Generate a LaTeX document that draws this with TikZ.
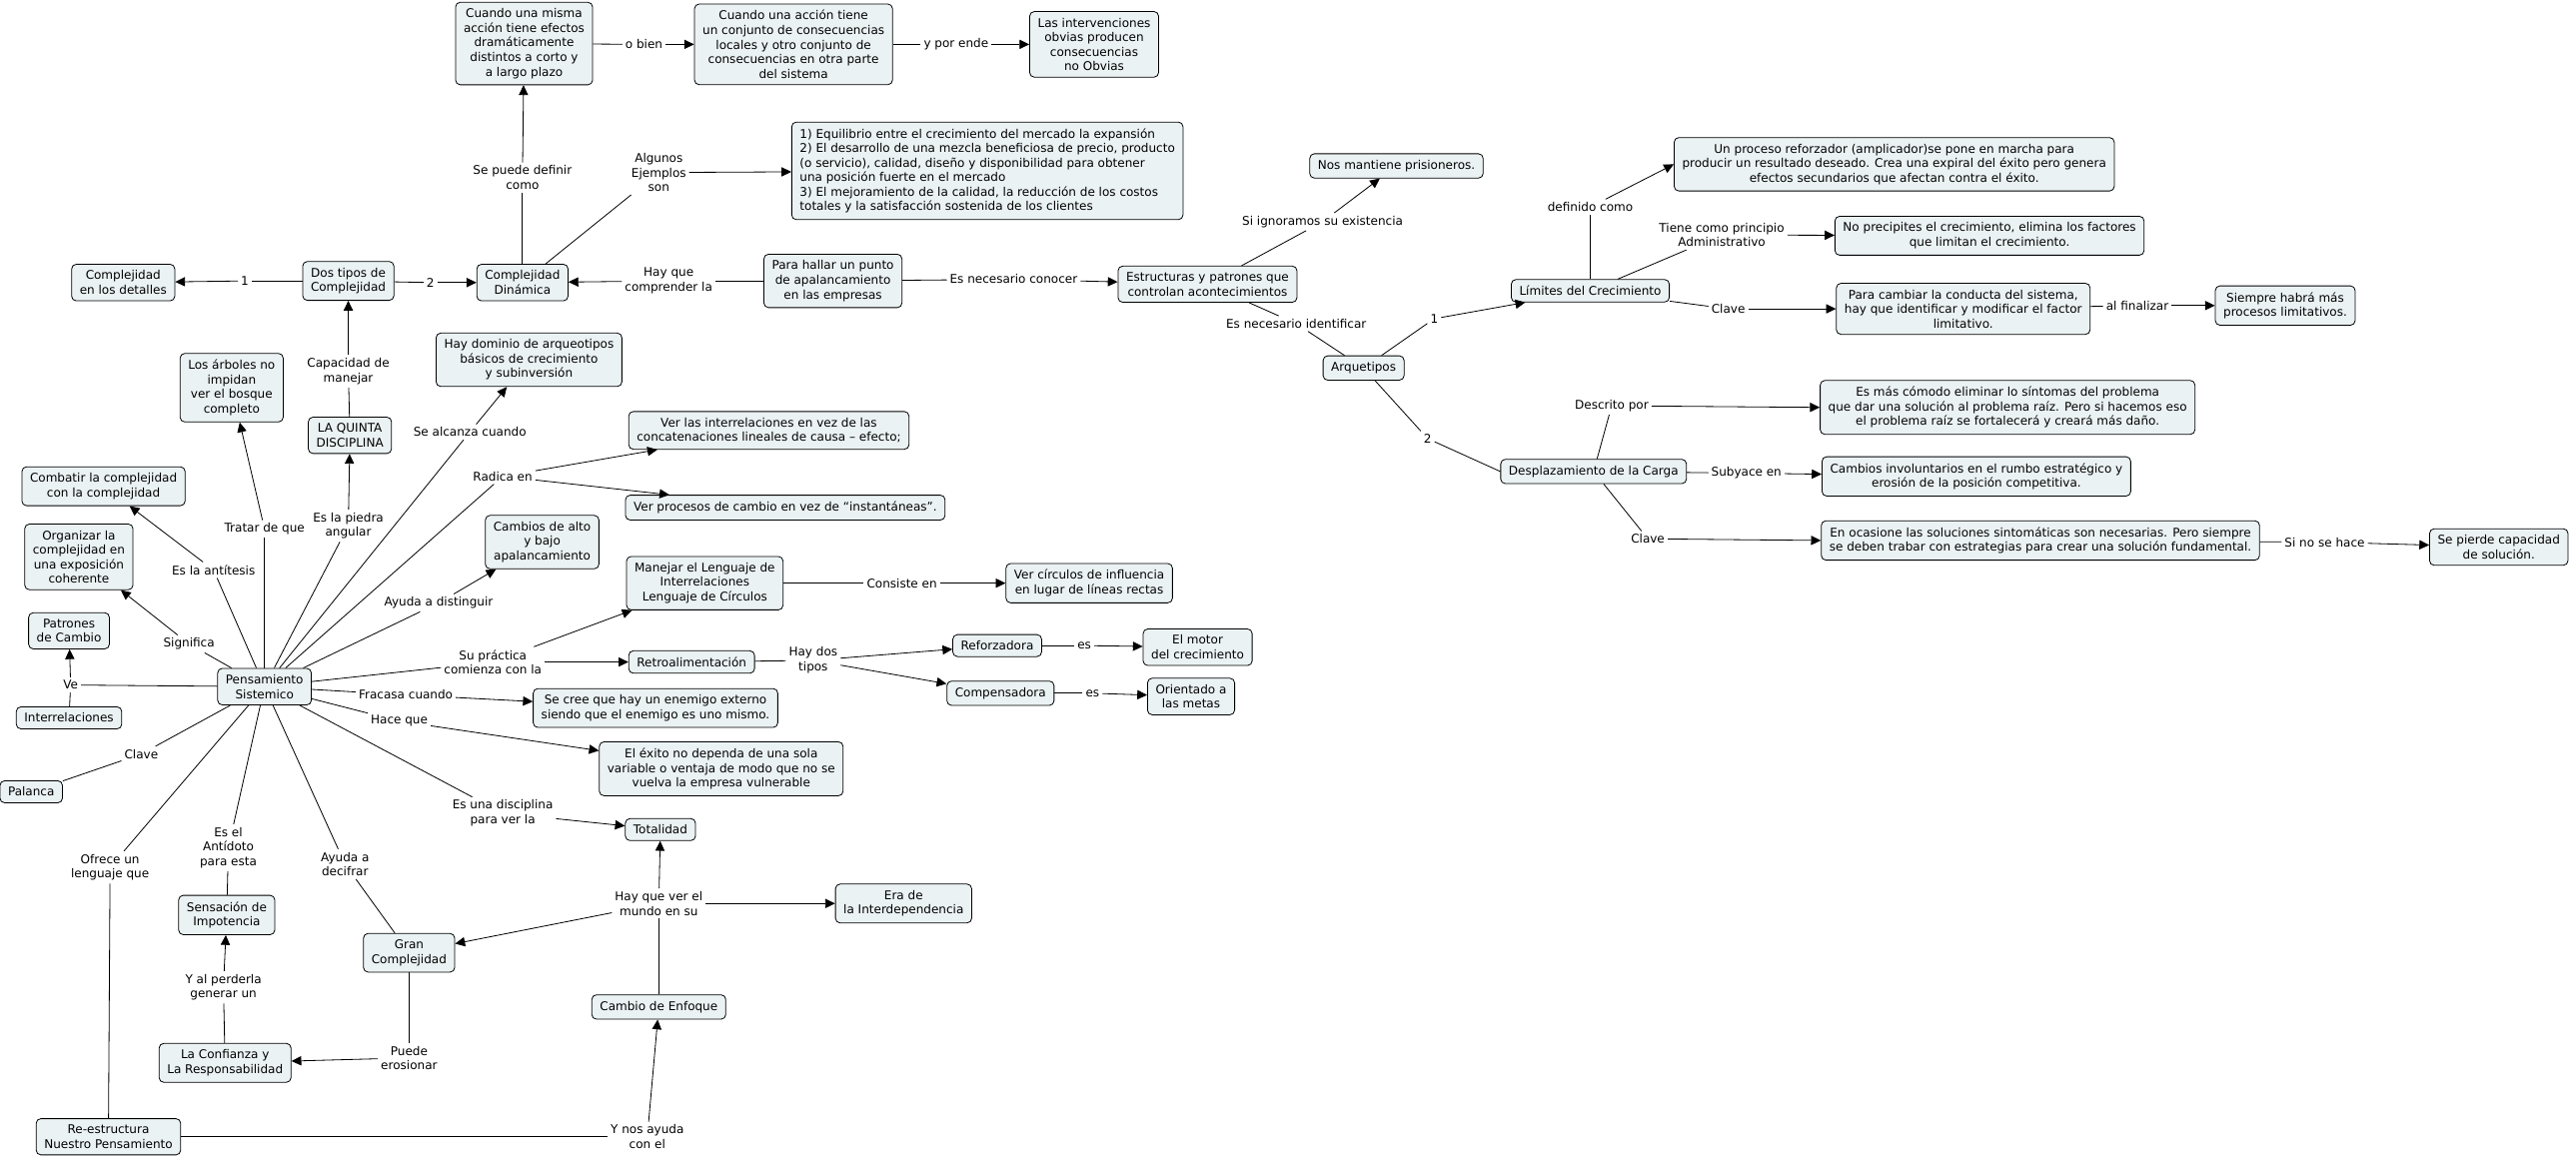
\documentclass[tikz,border=0pt]{standalone}
\usepackage{fontspec}
\setmainfont{DejaVu Sans}
\usepackage{xcolor}
\usepackage{tikz}
\usetikzlibrary{arrows.meta}
\definecolor{cmapfill}{RGB}{235,242,244}

\begin{document}
\begin{tikzpicture}[x=0.05cm, y=-0.05cm,
  every node/.style={font=\fontsize{10.4}{12.6}\selectfont, align=center},
  concept/.style={draw, rounded corners=4pt, fill=cmapfill, line width=0.7pt, inner xsep=7pt, inner ysep=5.5pt},
  link/.style={inner sep=2.5pt},
  con/.style={line width=0.7pt},
  arr/.style={con, -{Triangle[length=8.5pt,width=8pt]}}]

  \useasboundingbox (0,0) rectangle (1568,706);

  % conceptos de arriba
  \node[concept] (cmisma) at (319,26.5) {Cuando una misma\\acción tiene efectos\\dramáticamente\\distintos a corto y\\a largo plazo};
  \node[concept] (caccion) at (483,27) {Cuando una acción tiene\\un conjunto de consecuencias\\locales y otro conjunto de\\consecuencias en otra parte\\del sistema};
  \node[concept] (interv) at (666,27) {Las intervenciones\\obvias producen\\consecuencias\\no Obvias};
  \node[concept, align=left] (ejem) at (601,104) {1) Equilibrio entre el crecimiento del mercado la expansión\\2) El desarrollo de una mezcla beneficiosa de precio, producto\\(o servicio), calidad, diseño y disponibilidad para obtener\\una posición fuerte en el mercado\\3) El mejoramiento de la calidad, la reducción de los costos\\totales y la satisfacción sostenida de los clientes};
  \node[concept] (cdet) at (75,172) {Complejidad\\en los detalles};
  \node[concept] (dostipos) at (212,171) {Dos tipos de\\Complejidad};
  \node[concept] (cdin) at (318,172) {Complejidad\\Dinámica};
  \node[concept] (hallar) at (507,171) {Para hallar un punto\\de apalancamiento\\en las empresas};
  \node[concept] (estruct) at (735,173) {Estructuras y patrones que\\controlan acontecimientos};
  \node[concept] (prision) at (850,101) {Nos mantiene prisioneros.};

  % arquetipos
  \node[concept] (arquet) at (830,224) {Arquetipos};
  \node[concept] (limites) at (968,177) {Límites del Crecimiento};
  \node[concept] (reforz) at (1153,100) {Un proceso reforzador (amplicador)se pone en marcha para\\producir un resultado deseado. Crea una expiral del éxito pero genera\\efectos secundarios que afectan contra el éxito.};
  \node[concept] (noprec) at (1211,143.5) {No precipites el crecimiento, elimina los factores\\que limitan el crecimiento.};
  \node[concept] (paracamb) at (1195,188) {Para cambiar la conducta del sistema,\\hay que identificar y modificar el factor\\limitativo.};
  \node[concept] (siempre) at (1391,186) {Siempre habrá más\\procesos limitativos.};
  \node[concept] (despl) at (970,287) {Desplazamiento de la Carga};
  \node[concept] (comodo) at (1222,248) {Es más cómodo eliminar lo síntomas del problema\\que dar una solución al problema raíz. Pero si hacemos eso\\el problema raíz se fortalecerá y creará más daño.};
  \node[concept] (involunt) at (1203,290) {Cambios involuntarios en el rumbo estratégico y\\erosión de la posición competitiva.};
  \node[concept] (ocasion) at (1242,329) {En ocasione las soluciones sintomáticas son necesarias. Pero siempre\\se deben trabar con estrategias para crear una solución fundamental.};
  \node[concept] (pierde) at (1521,333) {Se pierde capacidad\\de solución.};

  % pensamiento sistemico
  \node[concept] (pens) at (161,418) {Pensamiento\\Sistemico};
  \node[concept] (dominio) at (322,219) {Hay dominio de arqueotipos\\básicos de crecimiento\\y subinversión};
  \node[concept] (arboles) at (141,236) {Los árboles no\\impidan\\ver el bosque\\completo};
  \node[concept] (quinta) at (213,265) {LA QUINTA\\DISCIPLINA};
  \node[concept] (combatir) at (63,296) {Combatir la complejidad\\con la complejidad};
  \node[concept] (organizar) at (48,339) {Organizar la\\complejidad en\\una exposición\\coherente};
  \node[concept] (patrones) at (42,384) {Patrones\\de Cambio};
  \node[concept] (interrel) at (42,437) {Interrelaciones};
  \node[concept] (palanca) at (19,482) {Palanca};
  \node[concept] (verinter) at (468,262) {Ver las interrelaciones en vez de las\\concatenaciones lineales de causa – efecto;};
  \node[concept] (verproc) at (478,309) {Ver procesos de cambio en vez de “instantáneas”.};
  \node[concept] (cambalto) at (330,330) {Cambios de alto\\y bajo\\apalancamiento};
  \node[concept] (manejar) at (429,355) {Manejar el Lenguaje de\\Interrelaciones\\Lenguaje de Círculos};
  \node[concept] (circulos) at (663,355) {Ver círculos de influencia\\en lugar de líneas rectas};
  \node[concept] (retro) at (421,403) {Retroalimentación};
  \node[concept] (reforzadora) at (607,393) {Reforzadora};
  \node[concept] (compens) at (609,422) {Compensadora};
  \node[concept] (motor) at (729,394) {El motor\\del crecimiento};
  \node[concept] (metas) at (725,424) {Orientado a\\las metas};
  \node[concept] (enemigo) at (399,431) {Se cree que hay un enemigo externo\\siendo que el enemigo es uno mismo.};
  \node[concept] (exito) at (439,468) {El éxito no dependa de una sola\\variable o ventaja de modo que no se\\vuelva la empresa vulnerable};
  \node[concept] (totalidad) at (402,505) {Totalidad};
  \node[concept] (era) at (550,550) {Era de\\la Interdependencia};
  \node[concept] (gran) at (249,580) {Gran\\Complejidad};
  \node[concept] (impot) at (138,557) {Sensación de\\Impotencia};
  \node[concept] (confianza) at (137,647) {La Confianza y\\La Responsabilidad};
  \node[concept] (enfoque) at (401,613) {Cambio de Enfoque};
  \node[concept] (reestr) at (66,692) {Re-estructura\\Nuestro Pensamiento};

  % frases de enlace
  \node[link] (lobien) at (392,27) {o bien};
  \node[link] (lporende) at (582,27) {y por ende};
  \node[link] (ldefinir) at (318,108) {Se puede definir\\como};
  \node[link] (lejem) at (401,105) {Algunos\\Ejemplos\\son};
  \node[link] (luno) at (149,171) {1};
  \node[link] (ldos) at (262,172) {2};
  \node[link] (lcompr) at (407,171) {Hay que\\comprender la};
  \node[link] (lconocer) at (617,170) {Es necesario conocer};
  \node[link] (lignor) at (805,135) {Si ignoramos su existencia};
  \node[link] (lident) at (789,197) {Es necesario identificar};
  \node[link] (larq1) at (873,194) {1};
  \node[link] (larq2) at (869,267) {2};
  \node[link] (ldefcomo) at (968,126) {definido como};
  \node[link] (lprinc) at (1048,143) {Tiene como principio\\Administrativo};
  \node[link] (lclave1) at (1052,188) {Clave};
  \node[link] (lfinal) at (1301,186) {al finalizar};
  \node[link] (ldescr) at (981,247) {Descrito por};
  \node[link] (lsubyace) at (1063,288) {Subyace en};
  \node[link] (lclave2) at (1003,328) {Clave};
  \node[link] (lnohace) at (1415,330) {Si no se hace};
  \node[link] (lcapac) at (212,226) {Capacidad de\\manejar};
  \node[link] (lalcanza) at (286,263) {Se alcanza cuando};
  \node[link] (lradica) at (306,290) {Radica en};
  \node[link] (ltratar) at (161,322) {Tratar de que};
  \node[link] (lpiedra) at (212,320) {Es la piedra\\angular};
  \node[link] (lantit) at (130,347) {Es la antítesis};
  \node[link] (ldistin) at (267,367) {Ayuda a distinguir};
  \node[link] (lsignif) at (115,392) {Significa};
  \node[link] (lpractica) at (300,403) {Su práctica\\comienza con la};
  \node[link] (lconsiste) at (549,355) {Consiste en};
  \node[link] (ltipos) at (495,402) {Hay dos\\tipos};
  \node[link] (les1) at (660,393) {es};
  \node[link] (les2) at (665,422) {es};
  \node[link] (lve) at (43,417) {Ve};
  \node[link] (lfracasa) at (247,423) {Fracasa cuando};
  \node[link] (lhace) at (243,439) {Hace que};
  \node[link] (lclave3) at (86,459) {Clave};
  \node[link] (ldiscip) at (306,495) {Es una disciplina\\para ver la};
  \node[link] (lofrece) at (67,528) {Ofrece un\\lenguaje que};
  \node[link] (lantid) at (139,516) {Es el\\Antídoto\\para esta};
  \node[link] (ldecif) at (210,526) {Ayuda a\\decifrar};
  \node[link] (lmundo) at (401,550) {Hay que ver el\\mundo en su};
  \node[link] (lperder) at (136,601) {Y al perderla\\generar un};
  \node[link] (leros) at (249,644) {Puede\\erosionar};
  \node[link] (lnosayuda) at (394,692) {Y nos ayuda\\con el};

  % complejidad
  \draw[con] (cmisma) -- (lobien);
  \draw[arr] (lobien) -- (caccion);
  \draw[con] (caccion) -- (lporende);
  \draw[arr] (lporende) -- (interv);
  \draw[con] (cdin) -- (ldefinir);
  \draw[arr] (ldefinir) -- (cmisma);
  \draw[con] (cdin) -- (lejem);
  \draw[arr] (lejem) -- (ejem);
  \draw[con] (dostipos) -- (luno);
  \draw[arr] (luno) -- (cdet);
  \draw[con] (dostipos) -- (ldos);
  \draw[arr] (ldos) -- (cdin);
  \draw[con] (hallar) -- (lcompr);
  \draw[arr] (lcompr) -- (cdin);
  \draw[con] (hallar) -- (lconocer);
  \draw[arr] (lconocer) -- (estruct);
  \draw[con] (estruct) -- (lignor);
  \draw[arr] (lignor) -- (prision);
  \draw[con] (estruct) -- (lident);
  \draw[con] (lident) -- (arquet);

  % arquetipos
  \draw[con] (arquet) -- (larq1);
  \draw[arr] (larq1) -- (limites);
  \draw[con] (arquet) -- (larq2);
  \draw[con] (larq2) -- (despl.west);
  \draw[con] (limites) -- (ldefcomo);
  \draw[arr] (ldefcomo) -- (reforz.west);
  \draw[con] (limites) -- (lprinc);
  \draw[arr] (lprinc) -- (noprec);
  \draw[con] (limites) -- (lclave1);
  \draw[arr] (lclave1) -- (paracamb);
  \draw[con] (paracamb) -- (lfinal);
  \draw[arr] (lfinal) -- (siempre);
  \draw[con] (despl) -- (ldescr);
  \draw[arr] (ldescr) -- (comodo.west);
  \draw[con] (despl) -- (lsubyace);
  \draw[arr] (lsubyace) -- (involunt);
  \draw[con] (despl) -- (lclave2);
  \draw[arr] (lclave2) -- (ocasion.west);
  \draw[con] (ocasion) -- (lnohace);
  \draw[arr] (lnohace) -- (pierde);

  % pensamiento sistemico
  \draw[con] (quinta) -- (lcapac);
  \draw[arr] (lcapac) -- (dostipos);
  \draw[con] (pens) -- (lpiedra);
  \draw[arr] (lpiedra) -- (quinta);
  \draw[con] (pens) -- (ltratar);
  \draw[arr] (ltratar) -- (arboles);
  \draw[con] (pens) -- (lalcanza);
  \draw[arr] (lalcanza) -- (dominio);
  \draw[con] (pens) -- (lradica);
  \draw[arr] (lradica) -- (verinter);
  \draw[arr] (lradica) -- (verproc);
  \draw[con] (pens) -- (lantit);
  \draw[arr] (lantit) -- (combatir);
  \draw[con] (pens) -- (lsignif);
  \draw[arr] (lsignif) -- (organizar);
  \draw[con] (pens) -- (ldistin);
  \draw[arr] (ldistin) -- (cambalto);
  \draw[con] (pens) -- (lpractica);
  \draw[arr] (lpractica) -- (manejar);
  \draw[arr] (lpractica) -- (retro);
  \draw[con] (manejar) -- (lconsiste);
  \draw[arr] (lconsiste) -- (circulos);
  \draw[con] (retro) -- (ltipos);
  \draw[arr] (ltipos) -- (reforzadora);
  \draw[arr] (ltipos) -- (compens);
  \draw[con] (reforzadora) -- (les1);
  \draw[arr] (les1) -- (motor);
  \draw[con] (compens) -- (les2);
  \draw[arr] (les2) -- (metas);
  \draw[con] (pens) -- (lve);
  \draw[con] (interrel) -- (lve);
  \draw[arr] (lve) -- (patrones);
  \draw[con] (pens) -- (lfracasa);
  \draw[arr] (lfracasa) -- (enemigo);
  \draw[con] (pens) -- (lhace);
  \draw[arr] (lhace) -- (exito);
  \draw[con] (pens) -- (lclave3);
  \draw[con] (lclave3) -- (palanca);
  \draw[con] (pens) -- (ldiscip);
  \draw[arr] (ldiscip) -- (totalidad);
  \draw[con] (pens) -- (lofrece);
  \draw[con] (lofrece) -- (reestr);
  \draw[con] (pens) -- (lantid);
  \draw[con] (lantid) -- (impot);
  \draw[con] (pens) -- (ldecif);
  \draw[con] (ldecif) -- (gran);

  % cambio de enfoque
  \draw[con] (enfoque) -- (lmundo);
  \draw[arr] (lmundo) -- (totalidad);
  \draw[arr] (lmundo) -- (era);
  \draw[arr] (lmundo) -- (gran);
  \draw[con] (gran) -- (leros);
  \draw[arr] (leros) -- (confianza);
  \draw[con] (confianza) -- (lperder);
  \draw[arr] (lperder) -- (impot);
  \draw[con] (reestr) -- (lnosayuda);
  \draw[arr] (lnosayuda) -- (enfoque);
\end{tikzpicture}
\end{document}
